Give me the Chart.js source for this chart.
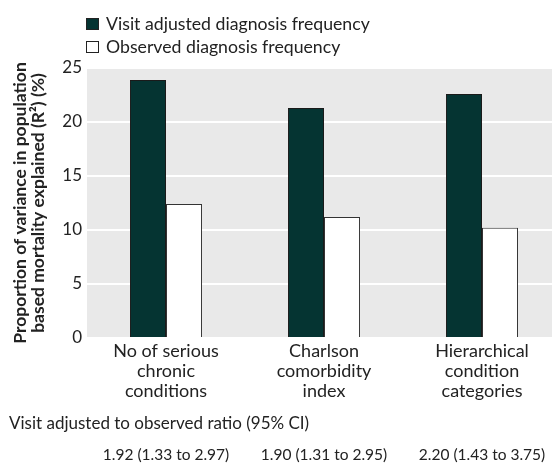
<!DOCTYPE html>
<html>
<head>
<meta charset="utf-8">
<script src="https://cdn.jsdelivr.net/npm/chart.js@4.4.1/dist/chart.umd.min.js"></script>
<style>
    html, body { margin: 0; padding: 0; background: #fff; overflow: hidden; }
    #wrap { width: 561px; height: 464px; }
</style>
</head>
<body>
<div id="wrap"><canvas id="mortalityChart" width="561" height="464"></canvas></div>
<script>
// Chart data
const categories = [
    ['No of serious', 'chronic', 'conditions'],
    ['Charlson', 'comorbidity', 'index'],
    ['Hierarchical', 'condition', 'categories']
];
const seriesNames = ['Visit adjusted diagnosis frequency', 'Observed diagnosis frequency'];
const visitAdjusted = [23.9, 21.3, 22.6];
const observed = [12.4, 11.2, 10.2];
const yTicks = [0, 5, 10, 15, 20, 25];
const yTitle = ['Proportion of variance in population', 'based mortality explained (R\u00B2) (%)'];
const ratioHeading = 'Visit adjusted to observed ratio (95% CI)';
const ratioLabels = ['1.92 (1.33 to 2.97)', '1.90 (1.31 to 2.95)', '2.20 (1.43 to 3.75)'];

const FONT = 'Lato';
const DARK = '#053432';
const TEXT = '#222';

// grey panel behind the bars
const panelBg = {
    id: 'panelBg',
    beforeDraw(chart) {
        const { ctx, chartArea: a } = chart;
        ctx.save();
        ctx.fillStyle = '#e9e9e9';
        ctx.fillRect(a.left, a.top, a.right - a.left, a.bottom - a.top);
        ctx.restore();
    }
};

// stacked legend at the top and the ratio row under the axis
const extras = {
    id: 'extras',
    afterDraw(chart) {
        const { ctx } = chart;
        const xScale = chart.scales.x;
        ctx.save();
        ctx.font = '17.7px ' + FONT;
        ctx.fillStyle = TEXT;
        ctx.textBaseline = 'middle';
        chart.data.datasets.forEach(function (ds, i) {
            const y = 24 + i * 23;
            ctx.fillStyle = ds.backgroundColor;
            ctx.fillRect(86, y - 6, 13, 12);
            ctx.strokeStyle = '#222';
            ctx.lineWidth = 1;
            ctx.strokeRect(86.5, y - 5.5, 12, 11);
            ctx.fillStyle = TEXT;
            ctx.textAlign = 'left';
            ctx.fillText(ds.label, 106, y);
        });

        ctx.font = '17px ' + FONT;
        ctx.textAlign = 'left';
        ctx.fillText(ratioHeading, 9, 424);
        ctx.font = '15.5px ' + FONT;
        ctx.textAlign = 'center';
        ratioLabels.forEach(function (t, i) {
            ctx.fillText(t, xScale.getPixelForValue(i), 455);
        });
        ctx.restore();
    }
};

document.addEventListener('DOMContentLoaded', function () {
    const ctx = document.getElementById('mortalityChart');
    new Chart(ctx, {
        type: 'bar',
        data: {
            labels: categories,
            datasets: [{
                label: seriesNames[0],
                data: visitAdjusted,
                backgroundColor: DARK,
                borderColor: '#1a1a1a',
                borderWidth: 1,
                borderSkipped: 'bottom'
            }, {
                label: seriesNames[1],
                data: observed,
                backgroundColor: '#ffffff',
                borderColor: '#333',
                borderWidth: 1,
                borderSkipped: 'bottom'
            }]
        },
        options: {
            responsive: false,
            animation: false,
            layout: { padding: { top: 68, left: 0, right: 0, bottom: 0 } },
            datasets: {
                bar: { barPercentage: 1, categoryPercentage: 0.456 }
            },
            plugins: {
                legend: { display: false },
                tooltip: { enabled: false }
            },
            scales: {
                x: {
                    afterFit: function (s) { s.height = 126; },
                    grid: { display: false, drawTicks: false },
                    border: { display: false },
                    ticks: {
                        color: TEXT,
                        padding: 3,
                        font: { family: FONT, size: 18, lineHeight: 1.111 }
                    }
                },
                y: {
                    min: 0,
                    max: 25,
                    afterFit: function (s) { s.width = 87; },
                    afterBuildTicks: function (s) {
                        s.ticks = yTicks.map(function (v) { return { value: v }; });
                    },
                    grid: { color: '#ffffff', lineWidth: 2, drawTicks: false },
                    border: { display: false },
                    ticks: {
                        color: TEXT,
                        padding: 5,
                        font: { family: FONT, size: 17 }
                    },
                    title: {
                        display: true,
                        text: yTitle,
                        color: TEXT,
                        padding: { top: 11, bottom: 0 },
                        font: { family: FONT, size: 17.5, weight: 'bold', lineHeight: 1.05 }
                    }
                }
            }
        },
        plugins: [panelBg, extras]
    });
});
</script>
</body>
</html>
